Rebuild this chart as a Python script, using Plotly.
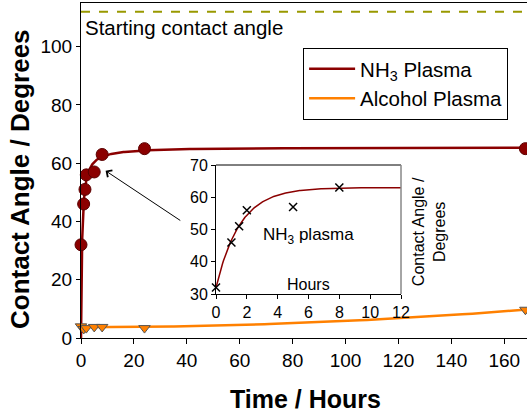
import numpy as np
import plotly.graph_objects as go

# ---- data ----
nh3_hours = [0, 1, 1.5, 2, 5, 8, 24, 168]
nh3_angle = [32, 46, 51, 56, 57, 63, 65, 65]

alc_hours = [0, 1, 2, 5, 8, 24, 168]
alc_angle = [4.0, 3.1, 3.4, 3.8, 3.8, 3.4, 9.7]

inset_hours = [0, 1, 1.5, 2, 5, 8]
inset_angle = [32, 46, 51, 56, 57, 63]

starting_angle = 112

# trend-line model parameters (as drawn in the original)
nh3_fit = dict(a=65.5, b=0.42)            # a*t/(b+t)
alc_fit = dict(c0=3.7, c2=2.13e-4)         # c0 + c2*t^2
inset_fit = dict(y0=32, amp=31, tau=1.55)  # y0 + amp*(1-exp(-t/tau))

XMAX = 168.6
t_main = np.concatenate([[0], np.geomspace(0.005, XMAX, 400)])
nh3_curve = nh3_fit["a"] * t_main / (nh3_fit["b"] + t_main)
alc_curve = alc_fit["c0"] + alc_fit["c2"] * t_main ** 2
t_in = np.linspace(0, 12, 200)
inset_curve = inset_fit["y0"] + inset_fit["amp"] * (1 - np.exp(-t_in / inset_fit["tau"]))

RED = "#8B0000"
ORANGE = "#FF8000"
FONT = "Liberation Sans, Arial, sans-serif"

fig = go.Figure()

fig.add_trace(go.Scatter(x=[0, XMAX], y=[starting_angle, starting_angle], mode="lines",
                         line=dict(color="#999900", width=2, dash="dash"),
                         showlegend=False, hoverinfo="skip"))

fig.add_trace(go.Scatter(x=t_main, y=nh3_curve, mode="lines", name="NH<sub>3</sub> Plasma",
                         line=dict(color=RED, width=2.5)))
fig.add_trace(go.Scatter(x=t_main, y=alc_curve, mode="lines", name="Alcohol Plasma",
                         line=dict(color=ORANGE, width=2.5)))

fig.add_trace(go.Scatter(x=nh3_hours, y=nh3_angle, mode="markers", showlegend=False,
                         marker=dict(symbol="circle", size=12, color=RED,
                                     line=dict(color="#5a0000", width=1)),
                         cliponaxis=False))
fig.add_trace(go.Scatter(x=alc_hours, y=alc_angle, mode="markers", showlegend=False,
                         marker=dict(symbol="triangle-down", size=10, color=ORANGE,
                                     line=dict(color="#555555", width=1)),
                         cliponaxis=False))

fig.add_trace(go.Scatter(x=t_in, y=inset_curve, mode="lines", xaxis="x2", yaxis="y2",
                         line=dict(color=RED, width=1.5), showlegend=False))
fig.add_trace(go.Scatter(x=inset_hours, y=inset_angle, mode="markers", xaxis="x2", yaxis="y2",
                         marker=dict(symbol="x-thin", size=8, color="black",
                                     line=dict(color="black", width=1.5)),
                         showlegend=False, cliponaxis=False))

W, H = 527, 412
ML, MR, MT, MB = 81, 0, 3, 74

fig.update_layout(
    width=W, height=H,
    margin=dict(l=ML, r=MR, t=MT, b=MB, autoexpand=False),
    paper_bgcolor="white", plot_bgcolor="white",
    font=dict(family=FONT, color="black", size=19),
    xaxis=dict(range=[0, XMAX], tickvals=list(range(0, 161, 20)), showgrid=False,
               zeroline=False, showline=True, linecolor="black", linewidth=1, mirror=True,
               ticks="outside", ticklen=5, tickcolor="black", automargin=False,
               tickfont=dict(size=19)),
    yaxis=dict(range=[0, 115], tickvals=list(range(0, 101, 20)), showgrid=False,
               zeroline=False, showline=True, linecolor="black", linewidth=1,
               ticks="outside", ticklen=4, tickcolor="black", automargin=False,
               tickfont=dict(size=19)),
    xaxis2=dict(domain=[0.3027, 0.7175], anchor="y2", range=[0, 12], dtick=2,
                showgrid=False, zeroline=False, showline=True, linecolor="black",
                linewidth=1, mirror=False, ticks="outside", ticklen=4, tickcolor="black",
                automargin=False, tickfont=dict(size=16)),
    yaxis2=dict(domain=[0.1313, 0.5164], anchor="x2", range=[30, 70], dtick=10,
                showgrid=False, zeroline=False, showline=True, linecolor="black",
                linewidth=1, ticks="outside", ticklen=4, tickcolor="black",
                automargin=False, tickfont=dict(size=16)),
    legend=dict(x=0.498, y=0.866, xanchor="left", yanchor="top",
                bgcolor="white", bordercolor="black", borderwidth=1,
                font=dict(size=20.5), tracegroupgap=0, itemwidth=46),
    showlegend=True,
)

# axis titles
fig.add_annotation(xref="paper", yref="paper", x=(305 - ML) / 446, y=(338 - 399) / 335,
                   xanchor="center", yanchor="middle", showarrow=False,
                   text="<b>Time / Hours</b>", font=dict(size=25))
fig.add_annotation(xref="paper", yref="paper", x=(20 - ML) / 446, y=(338 - 179) / 335,
                   xanchor="center", yanchor="middle", showarrow=False, textangle=-90,
                   text="<b>Contact Angle / Degrees</b>", font=dict(size=26))

fig.add_shape(type="line", xref="x2 domain", yref="y2 domain", x0=0, x1=1, y0=1, y1=1,
              line=dict(color="black", width=1))
fig.add_shape(type="line", xref="x2 domain", yref="y2 domain", x0=1, x1=1, y0=0, y1=1,
              line=dict(color="#888888", width=1.5))

fig.add_annotation(xref="paper", yref="y", x=0.005, y=starting_angle, yshift=-2,
                   text="Starting contact angle", showarrow=False,
                   xanchor="left", yanchor="top", font=dict(size=20.5))

fig.add_annotation(x=9.3, y=57.4, ax=38.1, ay=40, xref="x", yref="y", axref="x", ayref="y",
                   text="", showarrow=True, arrowhead=4, arrowsize=1.6, arrowwidth=1,
                   arrowcolor="black")

fig.add_annotation(xref="x2", yref="y2", x=5.97, y=48, text="NH<sub>3</sub> plasma",
                   showarrow=False, font=dict(size=17))
fig.add_annotation(xref="x2", yref="y2", x=5.97, y=32.8, text="Hours",
                   showarrow=False, font=dict(size=16))
fig.add_annotation(xref="paper", yref="paper", x=(429 - ML) / 446, y=0.316,
                   xanchor="center", yanchor="middle",
                   text="Contact Angle /<br>Degrees", textangle=-90, showarrow=False,
                   font=dict(size=16))

fig.write_html("out.html", config={"displayModeBar": False},
               post_script="document.body.style.margin='0';document.body.style.overflow='hidden';")
